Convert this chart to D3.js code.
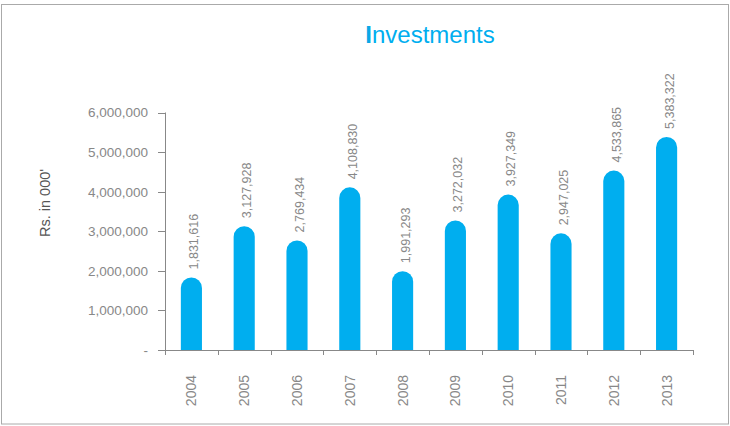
<!DOCTYPE html>
<html><head><meta charset="utf-8">
<script src="https://cdn.jsdelivr.net/npm/d3@7"></script>
<style>body{margin:0;background:#fff}svg{display:block}text{font-family:"Liberation Sans",Arial,sans-serif}</style>
</head><body><svg id="c" width="730" height="426"></svg>
<script>
const years = ["2004","2005","2006","2007","2008","2009","2010","2011","2012","2013"];
const investments = [1831616,3127928,2769434,4108830,1991293,3272032,3927349,2947025,4533865,5383322];
const yTicks = [0,1000000,2000000,3000000,4000000,5000000,6000000];
const title = "Investments";
const yTitle = "Rs. in 000'";

const svg = d3.select("#c");
const blue = "#00AEEF", grey = "#888";
svg.append("rect").attr("x",1.5).attr("y",4.5).attr("width",727).attr("height",419.5)
  .attr("fill","none").attr("stroke","#aaa");

const x = d3.scaleBand().domain(years).range([165,693]).paddingInner(0.6).paddingOuter(0.3);
const y = d3.scaleLinear().domain([0,6000000]).range([350,112.5]);
const band = (693-165)/years.length;

// y axis
const ya = svg.append("g");
ya.append("line").attr("x1",165.5).attr("x2",165.5).attr("y1",y(6000000)).attr("y2",350).attr("stroke",grey);
yTicks.forEach(t=>{
  ya.append("line").attr("x1",158).attr("x2",165).attr("y1",Math.round(y(t))+0.5).attr("y2",Math.round(y(t))+0.5).attr("stroke",grey);
  ya.append("text").attr("x",148).attr("y",y(t)).attr("dy","0.36em").attr("text-anchor","end")
    .attr("font-size",13.5).attr("fill",grey).text(t===0?"-":d3.format(",")(t));
});
// x axis
const xa = svg.append("g");
xa.append("line").attr("x1",165).attr("x2",693).attr("y1",350.5).attr("y2",350.5).attr("stroke",grey);
d3.range(years.length+1).forEach(i=>{
  const px = Math.round(165+i*band)+0.5;
  xa.append("line").attr("x1",px).attr("x2",px).attr("y1",350).attr("y2",355).attr("stroke",grey);
});
years.forEach(yr=>{
  const cx = x(yr)+x.bandwidth()/2;
  xa.append("text").attr("transform",`translate(${cx},375) rotate(-90)`).attr("dy",5)
    .attr("text-anchor","end").attr("font-size",14).attr("fill",grey).text(yr);
});

// bars
const bw = x.bandwidth(), r = bw/2;
svg.append("g").selectAll("path").data(years).join("path")
  .attr("fill",blue)
  .attr("d",(yr,i)=>{
    const x0 = x(yr), yt = y(investments[i]), yb = 350;
    return `M${x0},${yb}V${yt+r}A${r},${r} 0 0 1 ${x0+bw},${yt+r}V${yb}Z`;
  });
// value labels
svg.append("g").selectAll("text").data(years).join("text")
  .attr("transform",(yr,i)=>`translate(${x(yr)+bw/2},${y(investments[i])-8}) rotate(-90)`)
  .attr("dy",7).attr("font-size",12.5).attr("fill",grey)
  .text((yr,i)=>d3.format(",")(investments[i]));

// titles
const t = svg.append("text").attr("x",430).attr("y",43).attr("text-anchor","middle")
  .attr("font-size",24).attr("fill",blue);
t.append("tspan").attr("font-weight","bold").attr("fill","#0aa8e6").text(title[0]);
t.append("tspan").text(title.slice(1));
svg.append("text").attr("transform","translate(50,203) rotate(-90)").attr("text-anchor","middle")
  .attr("font-size",14.5).attr("fill","#555").text(yTitle);
</script></body></html>
